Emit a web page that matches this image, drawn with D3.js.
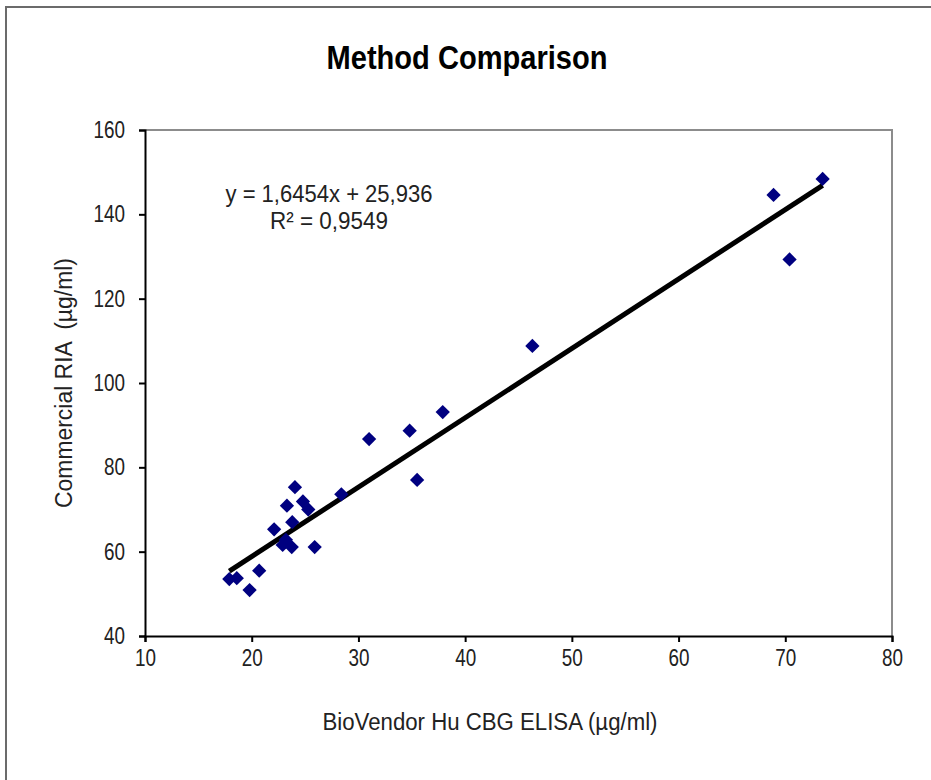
<!DOCTYPE html>
<html>
<head>
<meta charset="utf-8">
<script src="https://cdn.jsdelivr.net/npm/d3@7"></script>
<style>
  body { margin: 0; background: #fff; }
  svg text { font-family: "Liberation Sans Narrow", "Arial Narrow", "Liberation Sans", Arial, sans-serif; fill: #222; white-space: pre; }
</style>
</head>
<body>
<svg id="chart" width="931" height="780"></svg>
<script>
// values
const elisa = [17.9, 18.6, 19.8, 20.7, 22.1, 22.9, 23.2, 23.3, 23.75, 23.8, 24.05, 24.8, 25.3, 25.9, 28.4, 31.0, 34.8, 35.5, 37.9, 46.3, 68.9, 70.4, 73.5];
const ria   = [53.5, 53.7, 50.9, 55.5, 65.3, 61.6, 62.8, 70.9, 61.1, 67.0, 75.3, 71.9, 70.0, 61.1, 73.6, 86.7, 88.7, 77.0, 93.1, 108.8, 144.6, 129.3, 148.4];
const xTicks = [10, 20, 30, 40, 50, 60, 70, 80];
const yTicks = [40, 60, 80, 100, 120, 140, 160];
const slope = 1.6454, intercept = 25.936;

const margin = { top: 130, left: 145 },
      width = 747,
      height = 506;

const svg = d3.select("#chart");

// outer border of the chart area
svg.append("rect")
    .attr("x", 6).attr("y", 7)
    .attr("width", 940).attr("height", 800)
    .attr("fill", "none")
    .attr("stroke", "#6b6b6b")
    .attr("stroke-width", 2);

// no narrow font installed, so squeeze texts to the widths seen in the original
svg.append("text")
    .attr("x", 467).attr("y", 69)
    .attr("text-anchor", "middle")
    .attr("textLength", 281)
    .attr("lengthAdjust", "spacingAndGlyphs")
    .style("font-size", "34px")
    .style("font-weight", "bold")
    .style("fill", "#000")
    .text("Method Comparison");

const g = svg.append("g")
    .attr("transform", `translate(${margin.left},${margin.top})`);

const x = d3.scaleLinear().domain([10, 80]).range([0, width]);
const y = d3.scaleLinear().domain([40, 160]).range([height, 0]);

// plot frame (top/right grey)
g.append("path")
    .attr("d", `M0,0H${width}V${height}`)
    .attr("fill", "none")
    .attr("stroke", "#8c8c8c")
    .attr("stroke-width", 2);

const xAxis = g.append("g")
    .attr("transform", `translate(0,${height})`)
    .call(d3.axisBottom(x).tickValues(xTicks).tickSize(6).tickPadding(8));

const yAxis = g.append("g")
    .call(d3.axisLeft(y).tickValues(yTicks).tickSize(6).tickPadding(14));

[xAxis, yAxis].forEach(a => {
    a.select(".domain").attr("stroke", "#000").attr("stroke-width", 2);
    a.selectAll(".tick line").attr("stroke", "#000").attr("stroke-width", 2);
    a.selectAll(".tick text")
        .style("font-size", "23px")
        .style("fill", "#222")
        .attr("textLength", d => String(d).length * 10.5)
        .attr("lengthAdjust", "spacingAndGlyphs");
});

// trendline
const xr = d3.extent(elisa);
g.append("line")
    .attr("x1", x(xr[0])).attr("y1", y(slope * xr[0] + intercept))
    .attr("x2", x(xr[1])).attr("y2", y(slope * xr[1] + intercept))
    .attr("stroke", "#000")
    .attr("stroke-width", 5);

// points
const diamond = d3.symbol().type(d3.symbolDiamond2).size(130);
g.selectAll(".pt")
    .data(elisa.map((d, i) => [d, ria[i]]))
    .enter().append("path")
    .attr("class", "pt")
    .attr("transform", d => `translate(${x(d[0])},${y(d[1])})`)
    .attr("d", diamond)
    .attr("fill", "#000080");

// equation
const eq = svg.append("text")
    .attr("text-anchor", "middle")
    .style("font-size", "24px");
eq.append("tspan").attr("x", 329).attr("y", 202)
    .attr("textLength", 207).attr("lengthAdjust", "spacingAndGlyphs")
    .text("y = 1,6454x + 25,936");
eq.append("tspan").attr("x", 329).attr("y", 229)
    .attr("textLength", 118).attr("lengthAdjust", "spacingAndGlyphs")
    .text("R² = 0,9549");

// axis titles
svg.append("text")
    .attr("x", 490).attr("y", 730)
    .attr("text-anchor", "middle")
    .attr("textLength", 335)
    .attr("lengthAdjust", "spacingAndGlyphs")
    .style("font-size", "23px")
    .text("BioVendor Hu CBG ELISA (µg/ml)");

svg.append("text")
    .attr("transform", "translate(72,383) rotate(-90)")
    .attr("text-anchor", "middle")
    .attr("textLength", 250)
    .attr("lengthAdjust", "spacingAndGlyphs")
    .style("font-size", "23px")
    .text("Commercial RIA  (µg/ml)");
</script>
</body>
</html>
